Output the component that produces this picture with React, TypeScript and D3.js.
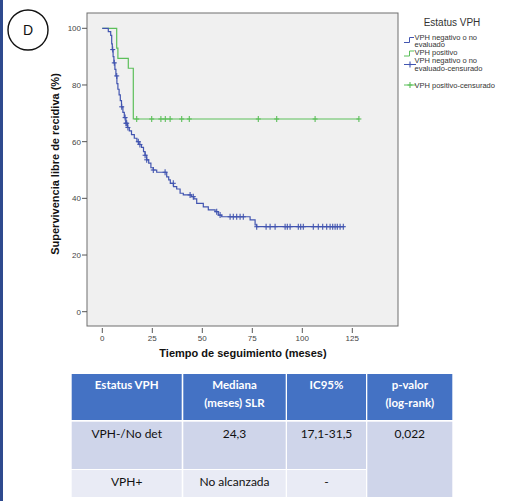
import React from 'react';
import * as d3 from 'd3';

// Kaplan-Meier steps: [months, % free of recurrence]
const negSteps: [number, number][] = [
  [0, 100], [3.0, 98.8], [4.2, 97.5], [4.7, 94.5], [5.0, 92.5], [5.4, 90.0], [5.8, 87.8],
  [6.3, 85.5], [6.8, 83.2], [7.3, 80.5], [7.8, 78.5], [8.4, 76.5], [9.0, 74.5], [9.6, 72.3],
  [10.3, 70.3], [11.0, 68.5], [11.8, 66.5], [12.6, 65.0], [13.5, 63.8], [14.6, 62.5],
  [16.0, 61.2], [17.3, 60.0], [18.3, 59.0], [19.6, 58.0], [20.6, 56.5], [21.4, 55.2],
  [22.2, 53.6], [23.2, 52.4], [24.3, 50.8], [25.5, 50.0], [27.2, 49.2], [32.2, 47.6],
  [33.2, 46.5], [34.0, 45.3], [35.6, 44.1], [37.2, 43.3], [38.9, 41.8], [40.5, 41.2],
  [44.5, 40.6], [45.8, 39.8], [47.2, 38.2], [50.5, 37.0], [53.0, 35.9], [56.4, 35.3],
  [58.0, 34.1], [59.7, 33.5], [73.9, 32.4], [76.4, 30.6], [77.2, 30.0], [121.0, 30.0],
];
const posSteps: [number, number][] = [
  [0, 100], [7.2, 93.0], [7.8, 89.4], [13.0, 85.9], [15.5, 68.0], [128.3, 68.0],
];
const negCensored = [
  5.2, 6.0, 7.2, 9.7, 11.4, 11.8, 12.2, 12.8, 18.0, 18.8, 21.4, 22.2, 25.5, 31.4, 35.5,
  43.9, 45.5, 57.2, 58.9, 63.9, 65.5, 67.2, 68.9, 70.5, 77.2, 81.9, 83.9, 86.4, 91.4,
  92.5, 93.9, 98.0, 99.2, 100.5, 105.5, 108.0, 110.2, 112.2, 113.9, 115.2, 116.4, 117.5,
  118.9, 120.5,
];
const posCensored = [17.2, 24.7, 29.3, 31.5, 33.9, 39.7, 43.5, 78.0, 87.2, 106.4, 128.3];

const xTicks = [0, 25, 50, 75, 100, 125];
const yTicks = [0, 20, 40, 60, 80, 100];

const legendTitle = 'Estatus VPH';
const legendItems = [
  ['VPH negativo o no', 'evaluado'],
  ['VPH positivo'],
  ['VPH negativo o no', 'evaluado-censurado'],
  ['VPH positivo-censurado'],
];

const tableHeader = [['Estatus VPH'], ['Mediana', '(meses) SLR'], ['IC95%'], ['p-valor', '(log-rank)']];
const tableRows = [
  ['VPH-/No det', '24,3', '17,1-31,5'],
  ['VPH+', 'No alcanzada', '-'],
];
const pValue = '0,022';

const BLUE = '#4255b0';
const GREEN = '#5cbf5a';

const x = d3.scaleLinear().domain([0, 125]).range([102.3, 352.3]);
const y = d3.scaleLinear().domain([0, 100]).range([311.7, 28.3]);
const frame = { left: 87, right: 398, top: 13, bottom: 326 };

const stepLine = d3.line<[number, number]>()
  .x(d => x(d[0]))
  .y(d => y(d[1]))
  .curve(d3.curveStepAfter);

const survivalAt = (steps: [number, number][], t: number) => {
  const i = d3.bisector((d: [number, number]) => d[0]).right(steps, t) - 1;
  return steps[Math.max(0, i)][1];
};

const Cross = ({ cx, cy, color }: { cx: number; cy: number; color: string }) => (
  <g stroke={color} strokeWidth={1.1}>
    <line x1={cx - 2.5} x2={cx + 2.5} y1={cy} y2={cy} />
    <line x1={cx} x2={cx} y1={cy - 3} y2={cy + 3} />
  </g>
);

const colX = [71.7, 183.3, 287, 367.3];
const colW = [110, 102.4, 79, 85];
const rowY = [374, 421.7, 470];
const rowH = [46, 47.3, 27];

const App = () => {
  const axisFont = 'Liberation Sans, Arial, sans-serif';
  const tableFont = 'Lato, Open Sans, sans-serif';
  const legendY = [[37, 44.5], [52], [60.5, 68], [85]];
  return (
    <div>
      <svg width={514} height={501} style={{ position: 'absolute', left: 0, top: 0 }}>
        <rect width={514} height={501} fill="#fff" />
        <rect x={0} y={0} width={3} height={501} fill="#2e4a8e" />

        <circle cx={28} cy={30} r={20} fill="none" stroke="#111" strokeWidth={1.4} />
        <text x={28} y={35} textAnchor="middle" fontFamily={axisFont} fontSize={14} fill="#111">D</text>

        {/* plot area */}
        <rect x={frame.left} y={frame.top} width={frame.right - frame.left} height={frame.bottom - frame.top}
          fill="#f0f0f0" stroke="#6e6e6e" strokeWidth={1} />

        {yTicks.map(t => (
          <g key={'y' + t}>
            <line x1={frame.left - 5} x2={frame.left} y1={y(t)} y2={y(t)} stroke="#555" />
            <text x={frame.left - 6} y={y(t) + 3} textAnchor="end" fontFamily={axisFont} fontSize={8} fill="#444">{t}</text>
          </g>
        ))}
        {xTicks.map(t => (
          <g key={'x' + t}>
            <line x1={x(t)} x2={x(t)} y1={frame.bottom + 2} y2={frame.bottom + 7} stroke="#555" />
            <text x={x(t)} y={frame.bottom + 15} textAnchor="middle" fontFamily={axisFont} fontSize={8} fill="#444">{t}</text>
          </g>
        ))}

        <text x={243} y={357} textAnchor="middle" fontFamily={axisFont} fontSize={11} fontWeight="bold" fill="#111">
          Tiempo de seguimiento (meses)
        </text>
        <text transform="translate(59,164) rotate(-90)" textAnchor="middle" fontFamily={axisFont} fontSize={11}
          fontWeight="bold" fill="#111">
          Supervivencia libre de recidiva (%)
        </text>

        <path d={stepLine(posSteps) ?? ''} fill="none" stroke={GREEN} strokeWidth={1.2} />
        <path d={stepLine(negSteps) ?? ''} fill="none" stroke={BLUE} strokeWidth={1.2} />
        {posCensored.map((t, i) => (
          <Cross key={'pc' + i} cx={x(t)} cy={y(survivalAt(posSteps, t))} color={GREEN} />
        ))}
        {negCensored.map((t, i) => (
          <Cross key={'nc' + i} cx={x(t)} cy={y(survivalAt(negSteps, t))} color={BLUE} />
        ))}

        {/* legend */}
        <text x={452} y={26} textAnchor="middle" fontFamily={axisFont} fontSize={10} fill="#333">{legendTitle}</text>
        <path d="M404,42.5 H409.5 V37.5 H414" fill="none" stroke={BLUE} strokeWidth={1} />
        <path d="M404,56 H409.5 V51 H414" fill="none" stroke={GREEN} strokeWidth={1} />
        <line x1={404} x2={416} y1={64.5} y2={64.5} stroke={BLUE} />
        <Cross cx={410} cy={64.5} color={BLUE} />
        <line x1={404} x2={416} y1={85} y2={85} stroke={GREEN} />
        <Cross cx={410} cy={85} color={GREEN} />
        {legendY.map((ys, i) =>
          ys.map((yy, j) => (
            <text key={`l${i}-${j}`} x={414.5} y={yy + 2.5} fontFamily={axisFont} fontSize={7.5} fill="#333">
              {legendItems[i][j]}
            </text>
          ))
        )}

        {/* table */}
        {tableHeader.map((lines, c) => (
          <g key={'h' + c}>
            <rect x={colX[c]} y={rowY[0]} width={colW[c]} height={rowH[0]} fill="#4472c4" />
            {lines.map((s, k) => (
              <text key={k} x={colX[c] + colW[c] / 2} y={389 + k * 18} textAnchor="middle" fontFamily={tableFont}
                fontSize={11.5} fontWeight="bold" fill="#fff">{s}</text>
            ))}
          </g>
        ))}
        {tableRows.map((row, r) => (
          <g key={'r' + r}>
            {row.map((s, c) => (
              <g key={c}>
                <rect x={colX[c]} y={rowY[r + 1]} width={colW[c]} height={rowH[r + 1]}
                  fill={r === 0 ? '#cfd5ea' : '#e9ebf5'} />
                <text x={colX[c] + colW[c] / 2} y={(r === 0 ? 434 : 482) + 4} textAnchor="middle"
                  fontFamily={tableFont} fontSize={12} fill="#111">{s}</text>
              </g>
            ))}
          </g>
        ))}
        <rect x={colX[3]} y={rowY[1]} width={colW[3]} height={rowY[2] + rowH[2] - rowY[1]} fill="#cfd5ea" />
        <text x={colX[3] + colW[3] / 2} y={438} textAnchor="middle" fontFamily={tableFont} fontSize={12} fill="#111">
          {pValue}
        </text>
      </svg>
    </div>
  );
};

export default App;
